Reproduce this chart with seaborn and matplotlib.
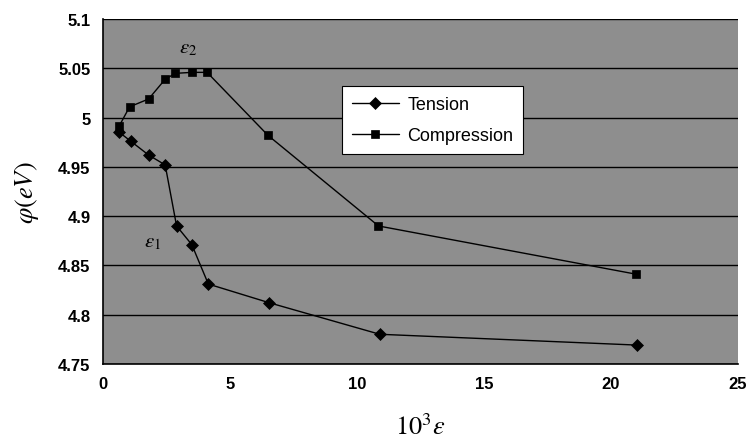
import matplotlib
matplotlib.use("Agg")
import matplotlib.pyplot as plt
import seaborn as sns
import pandas as pd

# Strain (10^3 * epsilon) and work function phi (eV)
tension_strain = [0.65, 1.1, 1.8, 2.45, 2.9, 3.5, 4.15, 6.55, 10.9, 21.05]
tension_phi = [4.985, 4.976, 4.962, 4.952, 4.890, 4.871, 4.831, 4.812, 4.780, 4.769]

compression_strain = [0.65, 1.05, 1.8, 2.45, 2.85, 3.5, 4.1, 6.5, 10.85, 21.0]
compression_phi = [4.992, 5.011, 5.019, 5.039, 5.045, 5.046, 5.046, 4.982, 4.890, 4.841]

x_ticks = [0, 5, 10, 15, 20, 25]
y_ticks = [4.75, 4.8, 4.85, 4.9, 4.95, 5.0, 5.05, 5.1]
y_tick_labels = ["4.75", "4.8", "4.85", "4.9", "4.95", "5", "5.05", "5.1"]

df = pd.concat([
    pd.DataFrame({"strain": tension_strain, "phi": tension_phi, "series": "Tension"}),
    pd.DataFrame({"strain": compression_strain, "phi": compression_phi, "series": "Compression"}),
], ignore_index=True)

sns.set_style("white")
plt.rcParams["mathtext.fontset"] = "stix"
plt.rcParams["text.color"] = "black"
plt.rcParams["xtick.color"] = "black"
plt.rcParams["ytick.color"] = "black"
plt.rcParams["axes.labelcolor"] = "black"

fig = plt.figure(figsize=(7.46, 4.39), dpi=100)
ax = fig.add_axes([0.138, 0.169, 0.851, 0.785])
ax.set_facecolor("#8e8e8e")

sns.lineplot(
    data=df, x="strain", y="phi", hue="series", style="series",
    markers={"Tension": "D", "Compression": "s"}, dashes=False,
    palette={"Tension": "black", "Compression": "black"},
    markersize=6, markeredgecolor="black", markeredgewidth=0.5,
    linewidth=1.0, sort=False, ax=ax, legend=True,
)

ax.set_xlim(0, 25)
ax.set_ylim(4.75, 5.1)
ax.set_xticks(x_ticks)
ax.set_xticklabels([str(t) for t in x_ticks], fontsize=12, fontweight="bold",
                   family="Liberation Sans")
ax.set_yticks(y_ticks)
ax.set_yticklabels(y_tick_labels, fontsize=12, fontweight="bold",
                   family="Liberation Sans")
ax.tick_params(axis="both", direction="out", length=3, width=0.8, color="#777777", pad=6)

ax.grid(axis="y", color="black", linewidth=1.0)
ax.grid(axis="x", visible=False)
ax.set_axisbelow(True)
for side in ["top", "right"]:
    ax.spines[side].set_visible(False)
for side in ["left", "bottom"]:
    ax.spines[side].set_color("black")
    ax.spines[side].set_linewidth(1.2)

ax.set_xlabel(r"$10^3\varepsilon$", fontsize=19, labelpad=16)
ax.set_ylabel(r"$\varphi(eV)$", fontsize=19, labelpad=12)

ax.text(3.35, 5.072, r"$\varepsilon_2$", fontsize=15, ha="center", va="center")
ax.text(1.95, 4.875, r"$\varepsilon_1$", fontsize=15, ha="center", va="center")

handles, labels = ax.get_legend_handles_labels()
leg = ax.legend(handles, labels, loc="upper left", bbox_to_anchor=(0.376, 0.806),
                frameon=True, fancybox=False, framealpha=1.0, edgecolor="black",
                facecolor="white", handlelength=2.6, handletextpad=0.5,
                borderpad=0.55, labelspacing=0.8, borderaxespad=0.0, title=None,
                prop={"family": "Liberation Sans", "size": 13})
leg.get_frame().set_linewidth(0.8)

fig.savefig("out.png", dpi=100)
